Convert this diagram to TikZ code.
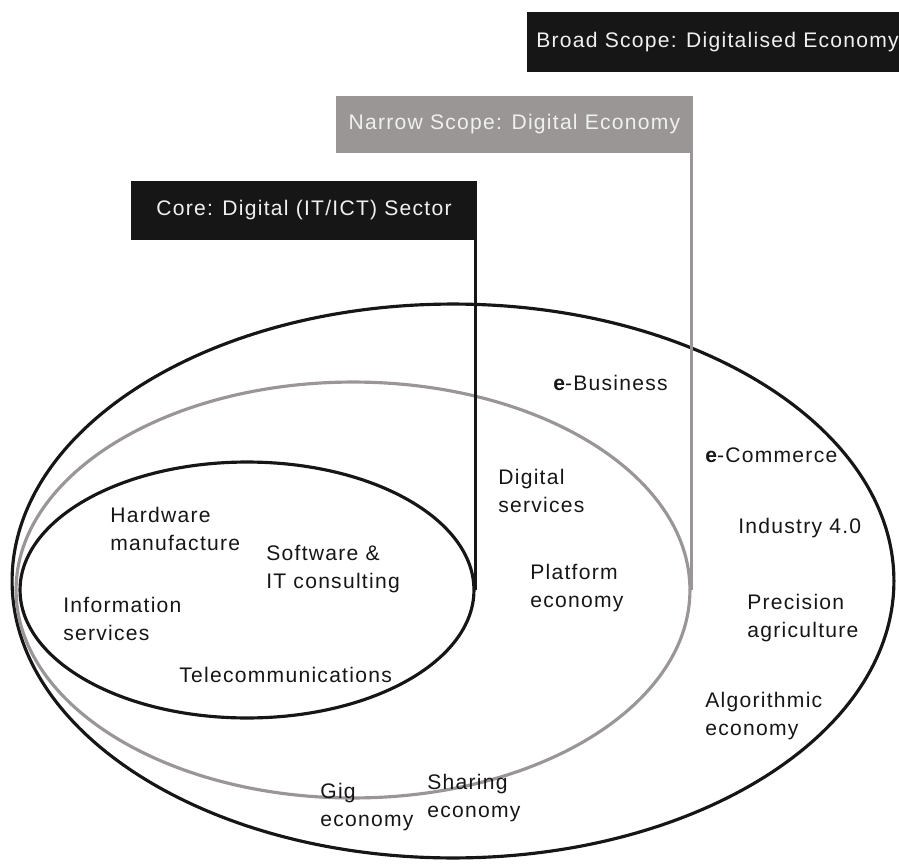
\documentclass[tikz,border=0pt]{standalone}
\usepackage{fontspec}
\setmainfont{Liberation Sans}[LetterSpace=6]
\usepackage{tikz}
\usetikzlibrary{shapes.geometric, positioning, calc}
\definecolor{scopegray}{RGB}{154,150,150}
\definecolor{inkblack}{RGB}{22,22,22}
\tikzset{every node/.append style={align=left, inner sep=0pt}}

\begin{document}
\begin{tikzpicture}[
    x=0.02cm, y=-0.02cm,
    font=\fontsize{12pt}{15.9pt}\selectfont, text=inkblack,
    ring/.style={ellipse, draw=inkblack, line width=1.8pt, inner sep=0pt},
    greyring/.style={ring, draw=scopegray},
    darkbox/.style={rectangle, fill=inkblack, text=white!94!black, minimum height=1.2cm, align=center},
    greybox/.style={darkbox, fill=scopegray},
    lbl/.style={anchor=base west},
    link/.style={line width=1.6pt, inkblack}
]
\useasboundingbox (0,0) rectangle (899,868);
% nested scopes
\node[ring, minimum width=17.64cm, minimum height=11.08cm] (broad ring) at (453,581) {};
\node[greyring, minimum width=13.48cm, minimum height=8.32cm] (narrow ring) at (353,590) {};
\node[ring, minimum width=9.08cm, minimum height=5.12cm] (core ring) at (247,590) {};

% scope titles
\node[darkbox, anchor=north west, inner xsep=0.18cm] (broad) at (527,12) {Broad Scope: Digitalised Economy};
\node[greybox, minimum width=7.14cm, minimum height=1.14cm] (narrow) at (514.5,124.5) {Narrow Scope: Digital Economy};
\node[darkbox, minimum width=6.92cm, minimum height=1.18cm] (core) at (304,210.5) {Core: Digital (IT/ICT) Sector};
\draw[link] (core.south -| core ring.east) -- (core ring.east);
\draw[link, scopegray] (narrow.south -| narrow ring.east) -- (narrow ring.east);

% core sector (base = last line)
\node[lbl] (hw) at (110,550) {Hardware\\manufacture};
\node[lbl] (sw) at (266,588) {Software \&\\IT consulting};
\node[lbl] (info) at (63,640) {Information\\services};
\node[lbl] (tele) at (179,682) {Telecommunications};
% digital economy
\node[lbl] (dserv) at (498,512) {Digital\\services};
\node[lbl] (platf) at (530,607) {Platform\\economy};
\node[lbl] (gig) at (320,826) {Gig\\economy};
\node[lbl] (share) at (427,817) {Sharing\\economy};
% digitalised economy
\node[lbl] (ebiz) at (553,390) {{\bfseries e}-Business};
\node[lbl] (ecom) at (705,462) {{\bfseries e}-Commerce};
\node[lbl] (ind) at (738,533) {Industry 4.0};
\node[lbl] (prec) at (747,637) {Precision\\agriculture};
\node[lbl] (algo) at (705,735) {Algorithmic\\economy};
\end{tikzpicture}
\end{document}
